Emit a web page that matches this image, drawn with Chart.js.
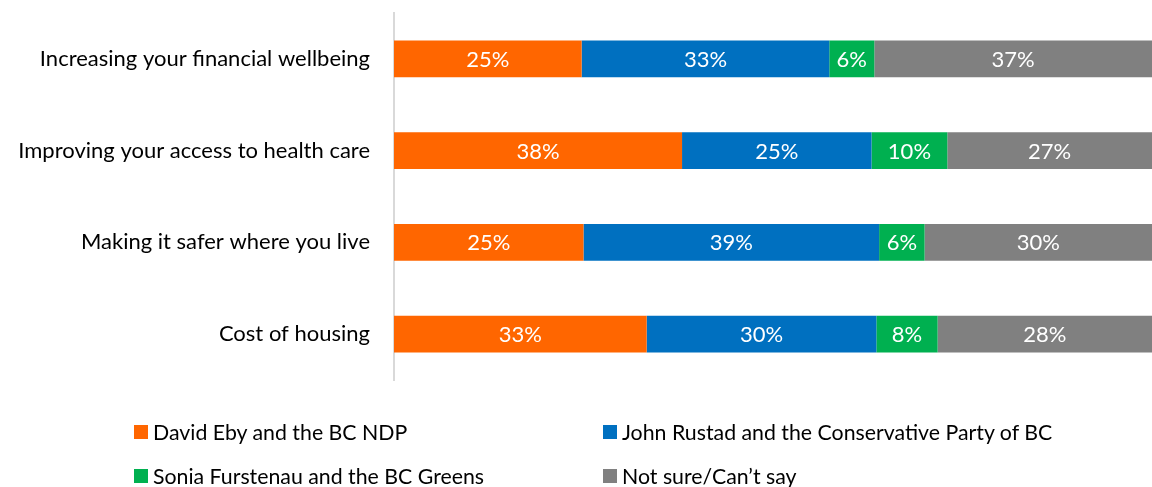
<!DOCTYPE html>
<html>
<head>
<meta charset="utf-8">
<title>Leader best able to handle each issue</title>
<script src="https://cdn.jsdelivr.net/npm/chart.js@4/dist/chart.umd.min.js"></script>
<style>
  html, body { margin: 0; padding: 0; background: #fff; }
  #wrap { position: relative; width: 1152px; height: 487px; overflow: hidden; font-family: Lato, "Open Sans", sans-serif; }
  #chart { position: absolute; left: 0; top: 0; }
  .lg-item { position: absolute; height: 28px; line-height: 28px; font-size: 21.3px; color: #000; white-space: nowrap; }
  .lg-swatch { position: absolute; left: 0; top: 7px; width: 14px; height: 14px; }
  .lg-text { position: absolute; left: 19px; top: 0; }
</style>
</head>
<body>
<div id="wrap">
  <canvas id="chart" width="1152" height="487"></canvas>
  <div id="legend"></div>
</div>
<script>
// Issues asked about (top to bottom)
const categories = [
  'Increasing your financial wellbeing',
  'Improving your access to health care',
  'Making it safer where you live',
  'Cost of housing'
];

// Answer options
const seriesNames = [
  'David Eby and the BC NDP',
  'John Rustad and the Conservative Party of BC',
  'Sonia Furstenau and the BC Greens',
  'Not sure/Can\u2019t say'
];

// Percent choosing each option, per issue
const ndpValues = [25, 38, 25, 33];
const conservativeValues = [33, 25, 39, 30];
const greensValues = [6, 10, 6, 8];
const notSureValues = [37, 27, 30, 28];

const palette = ['#FF6600', '#0070C0', '#00B050', '#808080'];
const FONT = 'Lato';

const series = [ndpValues, conservativeValues, greensValues, notSureValues];

// Each row is shown as a 100% bar: segment length is its share of the row total
const rowTotals = categories.map((_, i) => series.reduce((s, arr) => s + arr[i], 0));

const datasets = series.map((vals, k) => ({
  label: seriesNames[k],
  data: vals.map((v, i) => v / rowTotals[i] * 100),
  labelValues: vals,
  backgroundColor: palette[k],
  borderWidth: 0,
  barPercentage: 0.4,
  categoryPercentage: 1.0
}));

// Writes the percentage in the middle of every segment
const segmentLabels = {
  id: 'segmentLabels',
  afterDatasetsDraw(chart) {
    const ctx = chart.ctx;
    ctx.save();
    ctx.font = '22px ' + FONT;
    ctx.fillStyle = '#ffffff';
    ctx.textAlign = 'center';
    ctx.textBaseline = 'middle';
    chart.data.datasets.forEach((ds, i) => {
      const meta = chart.getDatasetMeta(i);
      meta.data.forEach((bar, j) => {
        const p = bar.getProps(['x', 'y', 'base'], true);
        ctx.fillText(ds.labelValues[j] + '%', (p.x + p.base) / 2, p.y + 1);
      });
    });
    ctx.restore();
  }
};

function buildLegend() {
  const host = document.getElementById('legend');
  const cols = [134, 603];
  const rows = [418, 462];
  seriesNames.forEach((name, k) => {
    const item = document.createElement('div');
    item.className = 'lg-item';
    item.style.left = cols[k % 2] + 'px';
    item.style.top = rows[Math.floor(k / 2)] + 'px';
    const sw = document.createElement('span');
    sw.className = 'lg-swatch';
    sw.style.background = palette[k];
    const tx = document.createElement('span');
    tx.className = 'lg-text';
    tx.textContent = name;
    item.appendChild(sw);
    item.appendChild(tx);
    host.appendChild(item);
  });
}

function draw() {
  new Chart(document.getElementById('chart'), {
    type: 'bar',
    data: { labels: categories, datasets: datasets },
    options: {
      indexAxis: 'y',
      responsive: false,
      animation: false,
      devicePixelRatio: 1,
      layout: { padding: { top: 13, bottom: 107, left: 0, right: 0 } },
      plugins: {
        legend: { display: false },
        tooltip: { enabled: false }
      },
      scales: {
        x: {
          stacked: true,
          min: 0,
          max: 100,
          display: false
        },
        y: {
          stacked: true,
          grid: { display: false, drawTicks: true, tickLength: 24 },
          border: { display: true, color: '#d9d9d9', width: 2 },
          ticks: {
            color: '#000000',
            font: { family: FONT, size: 22 },
            padding: 0
          },
          afterFit(scale) {
            scale.width = 394;
            scale.paddingTop = 0;
            scale.paddingBottom = 0;
          }
        }
      }
    },
    plugins: [segmentLabels]
  });
  buildLegend();
}

if (document.fonts && document.fonts.load) {
  document.fonts.load('22px ' + FONT).then(draw, draw);
} else {
  draw();
}
</script>
</body>
</html>
